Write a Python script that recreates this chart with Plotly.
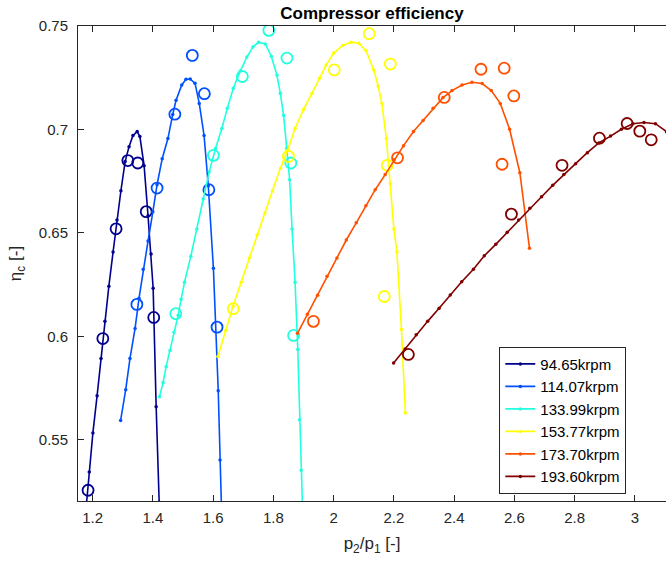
import plotly.graph_objects as go

# ---------------- data ----------------
speeds = ["94.65krpm", "114.07krpm", "133.99krpm", "153.77krpm", "173.70krpm", "193.60krpm"]
colors = ["#00008f", "#0050ff", "#20ffdf", "#ffff00", "#ff5000", "#800000"]

# fitted map lines (pressure ratio, efficiency)
line1_x = [1.179, 1.189, 1.201, 1.215, 1.228, 1.241, 1.254, 1.268, 1.281, 1.294, 1.308, 1.321, 1.334, 1.348,
           1.357, 1.371, 1.384, 1.394, 1.401, 1.411, 1.421]
line1_y = [0.518, 0.5345, 0.5534, 0.5714, 0.5893, 0.6073, 0.6243, 0.6408, 0.6563, 0.6704, 0.6845, 0.6917, 0.6971,
           0.6990, 0.6966, 0.6825, 0.6583, 0.6398, 0.6233, 0.5660, 0.5199]

line2_x = [1.293, 1.310, 1.324, 1.341, 1.354, 1.368, 1.384, 1.400, 1.414, 1.431, 1.450, 1.466, 1.477, 1.496,
           1.510, 1.524, 1.540, 1.554, 1.570, 1.584, 1.601, 1.617, 1.623, 1.628]
line2_y = [0.5594, 0.5743, 0.5893, 0.6039, 0.6184, 0.6325, 0.6461, 0.6602, 0.6733, 0.6859, 0.6956, 0.7073,
           0.7141, 0.7215, 0.7243, 0.7244, 0.7223, 0.7126, 0.6971, 0.6728, 0.6329, 0.5738, 0.5403, 0.516]

line3_x = [1.422, 1.434, 1.444, 1.457, 1.470, 1.484, 1.494, 1.505, 1.526, 1.546, 1.567, 1.587, 1.608, 1.629,
           1.647, 1.667, 1.690, 1.712, 1.732, 1.751, 1.773, 1.793, 1.812, 1.823, 1.834, 1.844, 1.854, 1.862,
           1.872, 1.881, 1.887, 1.892, 1.897]
line3_y = [0.5709, 0.5777, 0.5854, 0.5932, 0.6020, 0.6102, 0.6180, 0.6262, 0.6388, 0.6519, 0.6665, 0.6796,
           0.6908, 0.7005, 0.7102, 0.7199, 0.7282, 0.7350, 0.7398, 0.7422, 0.7413, 0.7354, 0.7262, 0.7175,
           0.7068, 0.6908, 0.6757, 0.6519, 0.6262, 0.5937, 0.5597, 0.5354, 0.516]

line4_x = [1.616, 1.642, 1.666, 1.693, 1.720, 1.746, 1.772, 1.797, 1.823, 1.847, 1.872, 1.900, 1.928, 1.953,
           1.975, 2.000, 2.030, 2.058, 2.083, 2.108, 2.133, 2.148, 2.160, 2.175, 2.188, 2.200, 2.210, 2.225,
           2.238]
line4_y = [0.5903, 0.6029, 0.6146, 0.6262, 0.6379, 0.6490, 0.6597, 0.6704, 0.6811, 0.6898, 0.7005, 0.7097,
           0.7175, 0.7248, 0.7311, 0.7369, 0.7406, 0.7422, 0.7417, 0.7380, 0.7288, 0.7209, 0.7126, 0.6956,
           0.6738, 0.6519, 0.6408, 0.6034, 0.5631]

line5_x = [1.880, 1.913, 1.947, 1.978, 2.011, 2.042, 2.075, 2.107, 2.138, 2.171, 2.201, 2.232, 2.265, 2.297,
           2.330, 2.363, 2.393, 2.426, 2.459, 2.493, 2.523, 2.553, 2.584, 2.618, 2.650]
line5_y = [0.6015, 0.6107, 0.6199, 0.6291, 0.6379, 0.6466, 0.6549, 0.6631, 0.6709, 0.6782, 0.6854, 0.6922,
           0.6990, 0.7044, 0.7102, 0.7154, 0.7188, 0.7215, 0.7228, 0.7222, 0.7188, 0.7126, 0.7001, 0.6791,
           0.6426]

line6_x = [2.199, 2.237, 2.274, 2.312, 2.350, 2.387, 2.425, 2.464, 2.500, 2.538, 2.576, 2.614, 2.651, 2.690,
           2.727, 2.764, 2.803, 2.842, 2.880, 2.919, 2.955, 2.993, 3.030, 3.068, 3.105, 3.145]
line6_y = [0.5872, 0.5940, 0.6008, 0.6073, 0.6136, 0.6200, 0.6264, 0.6325, 0.6390, 0.6445, 0.6503, 0.6563,
           0.6620, 0.6675, 0.6730, 0.6783, 0.6835, 0.6888, 0.6935, 0.6968, 0.7001, 0.7028, 0.7034, 0.7028,
           0.6989, 0.6930]

# measured points
meas1_x = [1.185, 1.234, 1.278, 1.317, 1.350, 1.378, 1.403]
meas1_y = [0.5257, 0.5990, 0.6520, 0.6850, 0.6838, 0.6603, 0.6092]
meas2_x = [1.347, 1.414, 1.473, 1.531, 1.571, 1.586, 1.613]
meas2_y = [0.6155, 0.6717, 0.7074, 0.7358, 0.7173, 0.6709, 0.6045]
meas3_x = [1.476, 1.601, 1.697, 1.785, 1.845, 1.858, 1.867]
meas3_y = [0.6110, 0.6875, 0.7256, 0.7479, 0.7345, 0.6838, 0.6005]
meas4_x = [1.667, 1.850, 2.002, 2.118, 2.188, 2.178, 2.168]
meas4_y = [0.6134, 0.6870, 0.7288, 0.7463, 0.7316, 0.6827, 0.6193]
meas5_x = [1.933, 2.212, 2.367, 2.489, 2.566, 2.598, 2.559]
meas5_y = [0.6073, 0.6863, 0.7155, 0.7291, 0.7296, 0.7162, 0.6832]
meas6_x = [2.248, 2.590, 2.758, 2.882, 2.974, 3.016, 3.054]
meas6_y = [0.5913, 0.6591, 0.6827, 0.6958, 0.7029, 0.6992, 0.6950]

x_ticks = [1.2, 1.4, 1.6, 1.8, 2.0, 2.2, 2.4, 2.6, 2.8, 3.0]
y_ticks = [0.55, 0.6, 0.65, 0.7, 0.75]

lines = [(line1_x, line1_y), (line2_x, line2_y), (line3_x, line3_y),
         (line4_x, line4_y), (line5_x, line5_y), (line6_x, line6_y)]
meas = [(meas1_x, meas1_y), (meas2_x, meas2_y), (meas3_x, meas3_y),
        (meas4_x, meas4_y), (meas5_x, meas5_y), (meas6_x, meas6_y)]

FONT = "Liberation Sans, Arial, Helvetica, sans-serif"
AX = "#262626"

fig = go.Figure()
for (lx, ly), (mx, my), name, c in zip(lines, meas, speeds, colors):
    fig.add_trace(go.Scatter(x=lx, y=ly, mode="lines+markers", name=name,
                             line=dict(color=c, width=1.6),
                             marker=dict(color=c, size=3.5, symbol="circle")))
    fig.add_trace(go.Scatter(x=mx, y=my, mode="markers", showlegend=False,
                             marker=dict(symbol="circle-open", size=11, color=c,
                                         line=dict(color=c, width=1.8))))

fig.update_layout(
    width=666, height=563,
    margin=dict(l=78, r=0, t=26, b=62),
    paper_bgcolor="white", plot_bgcolor="white",
    font=dict(family=FONT, size=15, color=AX),
    title=dict(text="<b>Compressor efficiency</b>", x=0.5, xref="paper",
               y=1 - 13 / 563, yref="container", yanchor="middle",
               font=dict(family=FONT, size=17, color="black")),
    showlegend=True,
    legend=dict(x=0.7165, y=0.325, xanchor="left", yanchor="top",
                bgcolor="white", bordercolor=AX, borderwidth=1,
                font=dict(family=FONT, size=15, color="black"),
                tracegroupgap=0, itemwidth=30),
)
fig.update_xaxes(range=[1.1516, 3.103], tickvals=x_ticks, ticktext=[f"{v:g}" for v in x_ticks],
                 ticks="inside", ticklen=6, tickcolor=AX, tickwidth=1,
                 showline=True, linecolor=AX, linewidth=1, mirror="ticks",
                 showgrid=False, zeroline=False, ticklabelstandoff=3,
                 title=dict(text="p<sub>2</sub>/p<sub>1</sub> [-]", font=dict(size=17, color=AX), standoff=12))
fig.update_yaxes(range=[0.5205, 0.75], tickvals=y_ticks, ticktext=[f"{v:g}" for v in y_ticks],
                 ticks="inside", ticklen=6, tickcolor=AX, tickwidth=1,
                 showline=True, linecolor=AX, linewidth=1, mirror=False,
                 showgrid=False, zeroline=False, ticklabelstandoff=6,
                 title=dict(text="η<sub>c</sub> [-]", font=dict(size=17, color=AX), standoff=12))

fig.write_html("out.html")
